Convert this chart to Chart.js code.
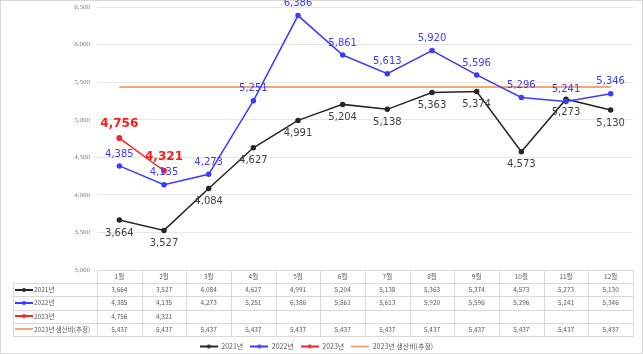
<!DOCTYPE html>
<html>
<head>
<meta charset="utf-8">
<script src="https://cdn.jsdelivr.net/npm/chart.js@4"></script>
<style>
  html, body { margin: 0; padding: 0; background: #fff; }
</style>
</head>
<body>
<canvas id="chart" width="643" height="354"></canvas>
<script>
const months = ['1월', '2월', '3월', '4월', '5월', '6월', '7월', '8월', '9월', '10월', '11월', '12월'];
const seriesNames = ['2021년', '2022년', '2023년', '2023년 생산비(추정)'];
const y2021 = [3664, 3527, 4084, 4627, 4991, 5204, 5138, 5363, 5374, 4573, 5273, 5130];
const y2022 = [4385, 4135, 4273, 5251, 6386, 5861, 5613, 5920, 5596, 5296, 5241, 5346];
const y2023 = [4756, 4321, null, null, null, null, null, null, null, null, null, null];
const cost2023 = [5437, 5437, 5437, 5437, 5437, 5437, 5437, 5437, 5437, 5437, 5437, 5437];

const fmt = v => v.toLocaleString('en-US');
const smallFont = '"Noto Sans CJK KR", "Noto Sans", sans-serif';

// 선+점 모양의 범례 기호
function legendKey(color, dot) {
    const c = document.createElement('canvas');
    c.width = 18; c.height = 6;
    const g = c.getContext('2d');
    g.strokeStyle = color;
    g.lineWidth = 2;
    g.beginPath(); g.moveTo(0, 3); g.lineTo(18, 3); g.stroke();
    if (dot) {
        g.fillStyle = color;
        g.beginPath(); g.arc(9, 3, 2, 0, Math.PI * 2); g.fill();
    }
    return c;
}

const colors = ['#262626', '#3b3bff', '#ff2020', '#f4a770'];
const keys = colors.map((c, i) => legendKey(c, i < 3));

// 값 라벨
const valueLabels = {
    id: 'valueLabels',
    afterDatasetsDraw(chart) {
        const ctx = chart.ctx;
        chart.data.datasets.forEach((ds, i) => {
            const st = ds.valueLabel;
            if (!st) return;
            const meta = chart.getDatasetMeta(i);
            ctx.save();
            ctx.font = st.font;
            ctx.fillStyle = st.color;
            ctx.textAlign = 'center';
            ctx.textBaseline = 'middle';
            meta.data.forEach((pt, j) => {
                const v = ds.data[j];
                if (v == null) return;
                ctx.fillText(fmt(v), pt.x, pt.y + st.dy);
            });
            ctx.restore();
        });
    }
};

// 아래쪽 데이터 표 + 테두리
const dataTable = {
    id: 'dataTable',
    beforeDraw(chart) {
        const ctx = chart.ctx;
        ctx.save();
        ctx.fillStyle = '#fff';
        ctx.fillRect(0, 0, chart.width, chart.height);
        ctx.strokeStyle = '#d9d9d9';
        ctx.lineWidth = 1;
        ctx.strokeRect(0.5, 0.5, chart.width - 1, chart.height - 1);
        ctx.restore();
    },
    afterDraw(chart) {
        const ctx = chart.ctx;
        const x = chart.scales.x;
        const area = chart.chartArea;
        const top = area.bottom;
        const rowH = (x.bottom - x.top) / 5;
        const colW = (area.right - area.left) / months.length;
        const labelLeft = 13;
        const rows = [y2021, y2022, y2023, cost2023];

        ctx.save();
        ctx.strokeStyle = '#d9d9d9';
        ctx.lineWidth = 1;
        ctx.beginPath();
        // 가로선
        ctx.moveTo(area.left, top + 0.5); ctx.lineTo(area.right, top + 0.5);
        for (let r = 1; r <= 5; r++) {
            const yy = Math.round(top + r * rowH) + 0.5;
            ctx.moveTo(labelLeft, yy); ctx.lineTo(area.right, yy);
        }
        // 세로선
        ctx.moveTo(labelLeft + 0.5, Math.round(top + rowH)); ctx.lineTo(labelLeft + 0.5, Math.round(top + 5 * rowH) + 1);
        for (let c = 0; c <= months.length; c++) {
            const xx = Math.round(area.left + c * colW) + 0.5;
            ctx.moveTo(xx, top); ctx.lineTo(xx, Math.round(top + 5 * rowH) + 1);
        }
        ctx.stroke();

        ctx.fillStyle = '#595959';
        ctx.font = '6.5px ' + smallFont;
        ctx.textBaseline = 'middle';
        ctx.textAlign = 'center';
        months.forEach((m, i) => {
            const cx = x.getPixelForValue(i);
            ctx.fillText(m, cx, top + rowH / 2);
            rows.forEach((row, r) => {
                if (row[i] == null) return;
                ctx.fillText(fmt(row[i]), cx, top + (r + 1.5) * rowH);
            });
        });
        ctx.textAlign = 'left';
        seriesNames.forEach((name, r) => {
            const cy = top + (r + 1.5) * rowH;
            ctx.drawImage(keys[r], labelLeft + 2, Math.round(cy) - 3);
            ctx.fillText(name, labelLeft + 21, cy);
        });
        ctx.restore();
    }
};

const ctx = document.getElementById('chart').getContext('2d');
new Chart(ctx, {
    type: 'line',
    data: {
        labels: months,
        datasets: [{
            label: seriesNames[0],
            data: y2021,
            borderColor: colors[0],
            backgroundColor: colors[0],
            borderWidth: 1.5,
            pointRadius: 2,
            valueLabel: { font: '10px "DejaVu Sans", sans-serif', color: '#404040', dy: 13 },
            order: 2
        }, {
            label: seriesNames[1],
            data: y2022,
            borderColor: colors[1],
            backgroundColor: colors[1],
            borderWidth: 1.5,
            pointRadius: 2,
            valueLabel: { font: '10px "DejaVu Sans", sans-serif', color: '#3b3bff', dy: -12 },
            order: 1
        }, {
            label: seriesNames[2],
            data: y2023,
            borderColor: colors[2],
            backgroundColor: colors[2],
            borderWidth: 1.5,
            pointRadius: 2.2,
            valueLabel: { font: 'bold 12px "DejaVu Sans", sans-serif', color: '#ff1a1a', dy: -14 },
            order: 0
        }, {
            label: seriesNames[3],
            data: cost2023,
            borderColor: colors[3],
            backgroundColor: colors[3],
            borderWidth: 2,
            pointRadius: 0,
            order: 3
        }]
    },
    options: {
        responsive: false,
        animation: false,
        layout: { padding: { top: 7, right: 10, left: 0, bottom: -6 } },
        plugins: {
            tooltip: { enabled: false },
            legend: {
                position: 'bottom',
                labels: {
                    usePointStyle: true,
                    pointStyleWidth: 18,
                    padding: 7,
                    color: '#595959',
                    font: { size: 7, family: smallFont },
                    generateLabels(chart) {
                        const items = Chart.defaults.plugins.legend.labels.generateLabels(chart);
                        items.forEach(it => { it.pointStyle = keys[it.datasetIndex]; });
                        return items.sort((a, b) => a.datasetIndex - b.datasetIndex);
                    }
                }
            }
        },
        scales: {
            x: {
                offset: true,
                grid: { display: false },
                border: { display: false },
                ticks: { display: false },
                afterFit(scale) { scale.height = 66; }
            },
            y: {
                min: 3000,
                max: 6500,
                ticks: {
                    stepSize: 500,
                    padding: 7,
                    color: '#7f7f7f',
                    font: { size: 7, family: '"Liberation Serif", serif' },
                    callback: v => fmt(v)
                },
                grid: { color: '#e6e6e6', drawTicks: false },
                border: { display: false },
                afterFit(scale) {
                    scale.width = 97;
                    scale.paddingTop = 0;
                    scale.paddingBottom = 0;
                }
            }
        }
    },
    plugins: [valueLabels, dataTable]
});
</script>
</body>
</html>
